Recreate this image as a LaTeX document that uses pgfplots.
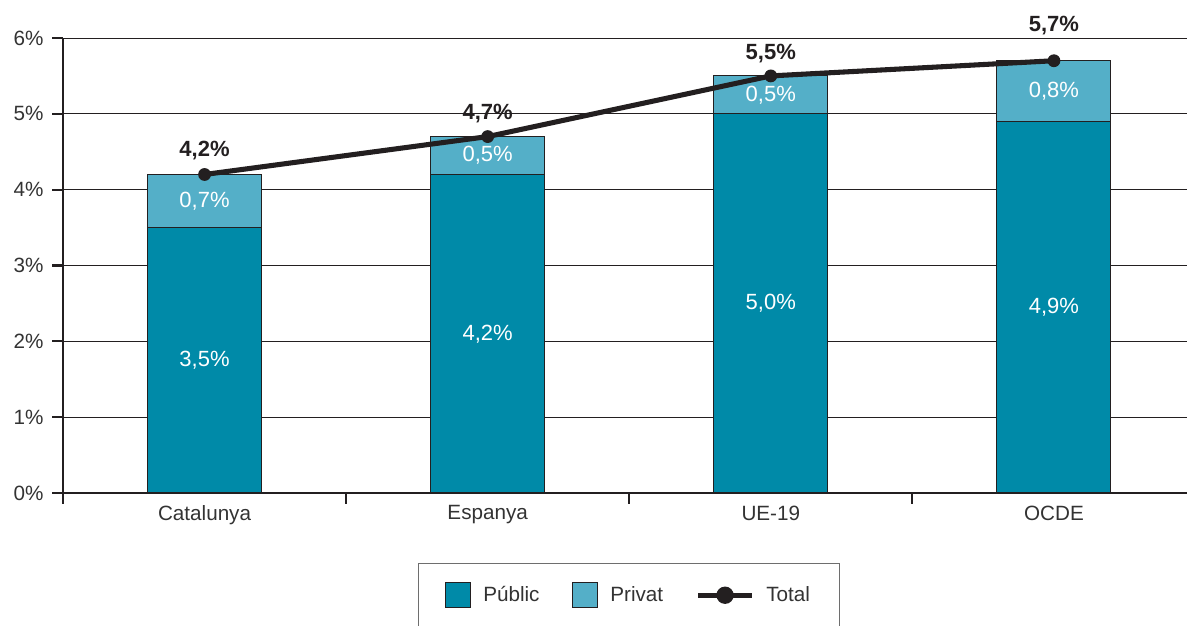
\documentclass[border=0pt]{standalone}
\usepackage{fontspec}
\setmainfont{Liberation Sans}
\usepackage{pgfplots}
\pgfplotsset{compat=1.18}
\definecolor{publ}{RGB}{0,138,168}
\definecolor{priv}{RGB}{84,175,200}
\definecolor{lin}{RGB}{35,31,32}
\definecolor{txt}{RGB}{51,51,51}
\definecolor{legbox}{RGB}{110,110,110}
\newcommand{\lbl}{\fontsize{15.5}{18}\selectfont}
\newcommand{\blbl}{\fontsize{16.5}{19}\selectfont}
\pgfplotsset{
  totalleg/.style={legend image code/.code={\draw[mark repeat=2,mark phase=2,##1,mark size=6pt] plot coordinates {(0pt,0pt) (20pt,0pt) (40pt,0pt)};}},
  publeg/.style={legend image code/.code={\draw[fill=publ,draw=lin,line width=0.8pt] (0pt,-9.4pt) rectangle (18.8pt,9.4pt);}},
  privleg/.style={legend image code/.code={\draw[fill=priv,draw=lin,line width=0.8pt] (0pt,-9.4pt) rectangle (18.8pt,9.4pt);}},
}
\begin{document}
\begin{tikzpicture}
\pgfplotsset{
  common/.style={
    scale only axis, width=843pt, height=341.25pt,
    xmin=-0.5, xmax=3.47, ymin=0, ymax=6,
    clip=false,
  }
}
\begin{axis}[common,
  ybar stacked, bar width=85.5pt,
  axis x line*=bottom, axis y line*=left,
  axis line style={lin, line width=1.6pt, -},
  ytick={0,1,2,3,4,5,6}, yticklabels={0\%,1\%,2\%,3\%,4\%,5\%,6\%},
  ymajorgrids, grid style={lin, line width=0.6pt},
  xtick={-0.5,0.5,1.5,2.5}, xticklabels={},
  extra x ticks={0,1,2,3},
  extra x tick labels={Catalunya,Espanya,UE-19,OCDE},
  extra x tick style={major tick length=0pt, grid=none,
     xticklabel style={yshift=-6pt}},
  tick align=outside, major tick length=8pt,
  tick style={lin, line width=1.6pt},
  ticklabel style={font=\lbl, text=txt},
  yticklabel style={xshift=-3pt},
]
\addplot[fill=publ, draw=lin, line width=0.8pt] coordinates {(0,3.5) (1,4.2) (2,5.0) (3,4.9)};
\addplot[fill=priv, draw=lin, line width=0.8pt] coordinates {(0,0.7) (1,0.5) (2,0.5) (3,0.8)};
\end{axis}
\begin{axis}[common, hide axis,
  legend columns=3,
  legend style={at={(0.3158,-0.1538)}, anchor=north west,
    draw=legbox, line width=0.8pt, fill=white,
    inner xsep=20pt, inner ysep=14pt,
    font=\lbl, text=txt,
    /tikz/every even column/.append style={column sep=22.5pt},
    /tikz/every odd column/.append style={column sep=7pt}},
]
\coordinate (SW) at (rel axis cs:0,0);
\coordinate (NE) at (rel axis cs:1,1);
\addlegendimage{publeg}
\addlegendentry{Públic}
\addlegendimage{privleg}
\addlegendentry{Privat}
\addplot[lin, line width=3.8pt, mark=*, mark size=4.3pt, mark options={line width=1pt}, totalleg]
  coordinates {(0,4.2) (1,4.7) (2,5.5) (3,5.7)};
\addlegendentry{Total}
% labels inside bars
\addplot[forget plot, draw=none, mark=none, nodes near coords, point meta=explicit symbolic,
  nodes near coords style={anchor=center, text=white, font=\blbl}]
  table[meta=label] {
x y label
0 1.75 {3,5\%}
1 2.10 {4,2\%}
2 2.50 {5,0\%}
3 2.45 {4,9\%}
0 3.85 {0,7\%}
1 4.45 {0,5\%}
2 5.25 {0,5\%}
3 5.30 {0,8\%}
};
% total labels
\addplot[forget plot, draw=none, mark=none, nodes near coords, point meta=explicit symbolic,
  nodes near coords style={anchor=center, text=lin, font=\blbl\bfseries}]
  table[meta=label] {
x y label
0 4.51 {4,2\%}
1 5.01 {4,7\%}
2 5.80 {5,5\%}
3 6.17 {5,7\%}
};
\end{axis}
\pgfresetboundingbox
\path[use as bounding box] ([xshift=-47.25pt,yshift=-99.75pt]SW) rectangle ([yshift=28.5pt]NE);
\end{tikzpicture}
\end{document}
